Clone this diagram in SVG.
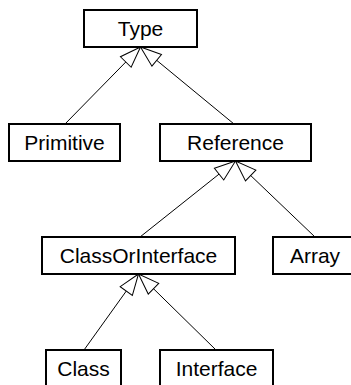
<svg xmlns="http://www.w3.org/2000/svg" width="351" height="385" viewBox="0 0 351 385">
  <style>
    .box { fill: #fff; stroke: #000; stroke-width: 2; }
    .lbl { font-family: "Liberation Sans", Arial, sans-serif; font-size: 21px; fill: #000; text-anchor: middle; }
    .edge { stroke: #000; stroke-width: 1; fill: none; marker-end: url(#gen); }
  </style>
  <defs>
    <!-- hollow generalization arrowhead -->
    <marker id="gen" markerUnits="userSpaceOnUse" markerWidth="26" markerHeight="20" viewBox="-24 -10 26 20" refX="0" refY="0" orient="auto" overflow="visible">
      <path d="M0,0 L-21,-7.5 L-21,7.5 Z" fill="#fff" stroke="#000" stroke-width="1"/>
    </marker>
  </defs>
  <rect width="351" height="385" fill="#fff"/>

  <g id="connectors">
    <line class="edge" x1="65" y1="124" x2="140.5" y2="47"/>
    <line class="edge" x1="234" y1="124" x2="140.5" y2="47"/>
    <line class="edge" x1="140" y1="237" x2="235.5" y2="161"/>
    <line class="edge" x1="315" y1="237" x2="235.5" y2="161"/>
    <line class="edge" x1="84" y1="350" x2="138.5" y2="274"/>
    <line class="edge" x1="216" y1="350" x2="138.5" y2="274"/>
  </g>

  <g id="Type">
    <rect class="box" x="84" y="10" width="113" height="37"/>
    <text class="lbl" x="140.5" y="35.5">Type</text>
  </g>
  <g id="Primitive">
    <rect class="box" x="9" y="124" width="111" height="37"/>
    <text class="lbl" x="64.5" y="149.5">Primitive</text>
  </g>
  <g id="Reference">
    <rect class="box" x="160" y="124" width="151" height="37"/>
    <text class="lbl" x="235.5" y="149.5">Reference</text>
  </g>
  <g id="ClassOrInterface">
    <rect class="box" x="42" y="237" width="193" height="37"/>
    <text class="lbl" x="138.5" y="262.5">ClassOrInterface</text>
  </g>
  <g id="Array">
    <rect class="box" x="273" y="237" width="84" height="37"/>
    <text class="lbl" x="315" y="262.5">Array</text>
  </g>
  <g id="Class">
    <rect class="box" x="46" y="350" width="75" height="40"/>
    <text class="lbl" x="83.5" y="375.5">Class</text>
  </g>
  <g id="Interface">
    <rect class="box" x="160" y="350" width="113" height="40"/>
    <text class="lbl" x="216.5" y="375.5">Interface</text>
  </g>
</svg>
